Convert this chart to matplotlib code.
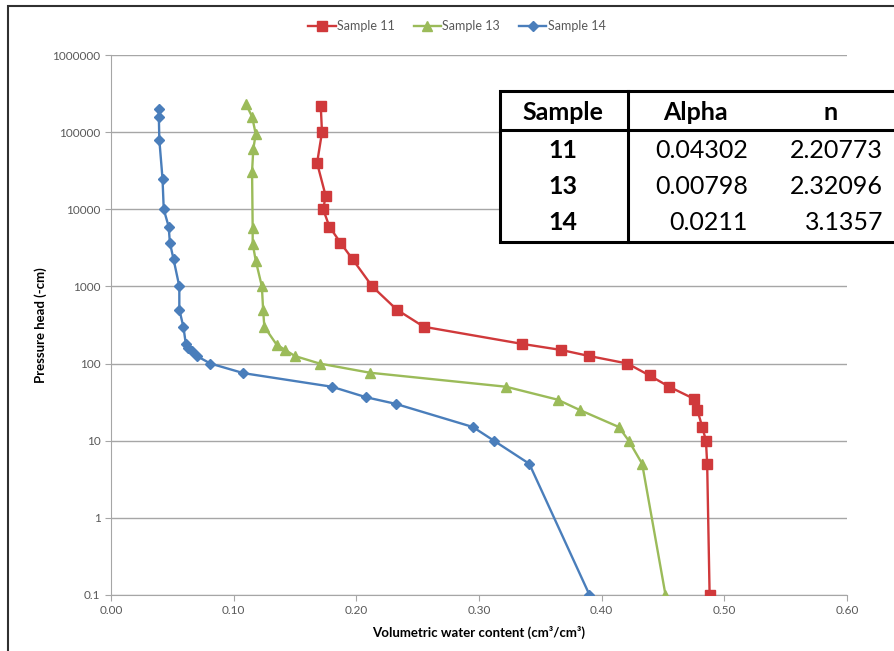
import matplotlib.pyplot as plt
from matplotlib.patches import Rectangle
from matplotlib.lines import Line2D
from matplotlib.ticker import FuncFormatter, FixedLocator, NullLocator

plt.rcParams['font.family'] = ['Lato', 'DejaVu Sans']

# --------------------------------------------------------------------
# Data
# --------------------------------------------------------------------

theta_11 = [0.171, 0.172, 0.168, 0.175, 0.173, 0.178, 0.187, 0.197, 0.213, 0.233,
            0.255, 0.335, 0.367, 0.390, 0.421, 0.439, 0.455, 0.475, 0.478, 0.482,
            0.485, 0.486, 0.488]
head_11 = [220000, 100000, 40000, 15000, 10000, 6000, 3700, 2250, 1000, 500,
           300, 180, 150, 125, 100, 70, 50, 35, 25, 15, 10, 5, 0.1]

theta_13 = [0.110, 0.115, 0.118, 0.116, 0.115, 0.1155, 0.1155, 0.118, 0.123, 0.124,
            0.125, 0.135, 0.142, 0.150, 0.170, 0.211, 0.322, 0.364, 0.382, 0.414,
            0.422, 0.433, 0.452]
head_13 = [233000, 160000, 95000, 61000, 31000, 5700, 3600, 2160, 1000, 500,
           300, 176, 150, 125, 100, 76, 50, 34, 25, 15, 10, 5, 0.1]

theta_14 = [0.039, 0.039, 0.0394, 0.042, 0.043, 0.047, 0.048, 0.051, 0.0557, 0.0557,
            0.059, 0.061, 0.063, 0.066, 0.070, 0.081, 0.108, 0.180, 0.208, 0.232,
            0.295, 0.312, 0.341, 0.390]
head_14 = [200000, 160000, 80000, 25000, 10000, 6000, 3700, 2250, 1000, 500,
           300, 180, 160, 147, 125, 100, 75, 50, 36.5, 30, 15, 10, 5, 0.1]

table_samples = ["11", "13", "14"]
table_alpha = ["0.04302", "0.00798", "0.0211"]
table_n = ["2.20773", "2.32096", "3.1357"]

x_ticks = [0.0, 0.1, 0.2, 0.3, 0.4, 0.5, 0.6]
y_ticks = [0.1, 1, 10, 100, 1000, 10000, 100000, 1000000]

RED = "#D0393B"
GREEN = "#9BBB59"
BLUE = "#4A7EBB"
GRID = "#A6A6A6"
TICK_TEXT = "#595959"

W, H = 895, 651

fig = plt.figure(figsize=(W / 100, H / 100), dpi=100)


def fx(px):
    return px / W


def fy(py):
    return 1 - py / H


# outer chart border (cut off at right and bottom like the screenshot)
fig.patches.append(Rectangle((fx(8), fy(700)), fx(1000), fy(6) - fy(700),
                             transform=fig.transFigure, fill=False,
                             edgecolor="#303030", linewidth=1.5))

ax = fig.add_axes([fx(111), fy(594.7), fx(847) - fx(111), fy(55.3) - fy(594.7)])

ax.plot(theta_11, head_11, color=RED, linewidth=1.7, marker="s", markersize=7,
        markerfacecolor=RED, markeredgecolor=RED, label="Sample 11", zorder=3)
ax.plot(theta_13, head_13, color=GREEN, linewidth=1.7, marker="^", markersize=7,
        markerfacecolor=GREEN, markeredgecolor=GREEN, label="Sample 13", zorder=3)
ax.plot(theta_14, head_14, color=BLUE, linewidth=1.7, marker="D", markersize=5.5,
        markerfacecolor=BLUE, markeredgecolor=BLUE, label="Sample 14", zorder=3)

ax.set_yscale("log")
ax.set_xlim(0, 0.6)
ax.set_ylim(0.1, 1000000)

ax.xaxis.set_major_locator(FixedLocator(x_ticks))
ax.yaxis.set_major_locator(FixedLocator(y_ticks))
ax.yaxis.set_minor_locator(NullLocator())
ax.xaxis.set_major_formatter(FuncFormatter(lambda v, p: f"{v:.2f}"))
ax.yaxis.set_major_formatter(FuncFormatter(lambda v, p: f"{v:g}" if v < 1 else f"{int(round(v))}"))

ax.grid(True, axis="y", color=GRID, linewidth=1)
ax.set_axisbelow(True)

for side in ["top", "right"]:
    ax.spines[side].set_visible(False)
for side in ["left", "bottom"]:
    ax.spines[side].set_color(GRID)

ax.tick_params(axis="both", direction="out", length=4, color=GRID,
               labelsize=8.5, labelcolor=TICK_TEXT)

ax.set_xlabel("Volumetric water content (cm³/cm³)", fontsize=9.5, fontweight="bold",
              labelpad=7)
ax.set_ylabel("Pressure head (-cm)", fontsize=9.5, fontweight="bold", labelpad=4)

fig.legend(loc="center", bbox_to_anchor=(fx(457), fy(26)), ncol=3, frameon=False,
           fontsize=9, handlelength=2.2, columnspacing=1.5, handletextpad=0.1,
           labelcolor=TICK_TEXT)

# --------------------------------------------------------------------
# Van Genuchten parameter table
# --------------------------------------------------------------------

tx0, tx1 = 500, 897
ty0, ty1 = 91, 242
fig.patches.append(Rectangle((fx(tx0), fy(ty1)), fx(tx1) - fx(tx0), fy(ty0) - fy(ty1),
                             transform=fig.transFigure, facecolor="white",
                             edgecolor="black", linewidth=2.2, zorder=5))
fig.lines.append(Line2D([fx(tx0), fx(tx1)], [fy(130), fy(130)],
                        transform=fig.transFigure, color="black", linewidth=2.2,
                        zorder=6))
fig.lines.append(Line2D([fx(628), fx(628)], [fy(ty0), fy(ty1)],
                        transform=fig.transFigure, color="black", linewidth=2.2,
                        zorder=6))

TFS = 18
fig.text(fx(563), fy(112), "Sample", ha="center", va="center", fontsize=TFS,
         fontweight="bold", zorder=7)
fig.text(fx(695), fy(112), "Alpha", ha="center", va="center", fontsize=TFS,
         fontweight="bold", zorder=7)
fig.text(fx(831), fy(112), "n", ha="center", va="center", fontsize=TFS,
         fontweight="bold", zorder=7)

row_y = [150, 186, 222]
for yy, s, a, n in zip(row_y, table_samples, table_alpha, table_n):
    fig.text(fx(563), fy(yy), s, ha="center", va="center", fontsize=TFS,
             fontweight="bold", zorder=7)
    fig.text(fx(748), fy(yy), a, ha="right", va="center", fontsize=TFS, zorder=7)
    fig.text(fx(883), fy(yy), n, ha="right", va="center", fontsize=TFS, zorder=7)

fig.savefig("out.png", dpi=100)
